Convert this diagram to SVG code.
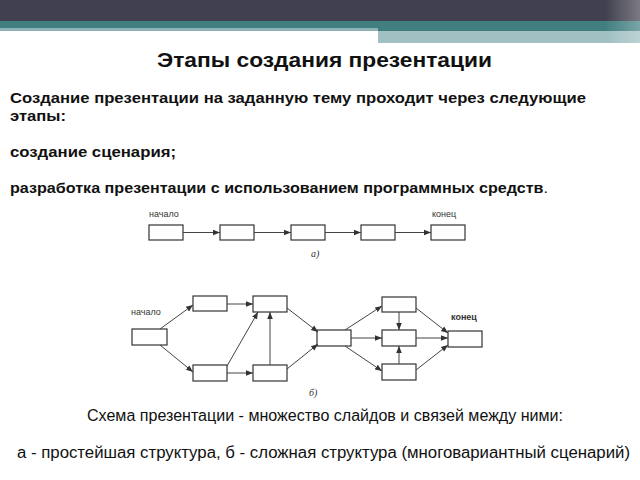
<svg xmlns="http://www.w3.org/2000/svg" width="640" height="480" viewBox="0 0 640 480">
<defs>
<marker id="ah" viewBox="0 0 10 10" refX="10" refY="5" markerWidth="7" markerHeight="7" markerUnits="userSpaceOnUse" orient="auto">
<path d="M0,1 L10,5 L0,9 z" fill="#333"/>
</marker>
<linearGradient id="edge" x1="0" x2="1" y1="0" y2="0">
<stop offset="0" stop-color="#ffffff" stop-opacity="0"/>
<stop offset="1" stop-color="#ffffff" stop-opacity="0.3"/>
</linearGradient>
</defs>
<style>
.box{fill:#fff;stroke:#333;stroke-width:1.2}
.c{stroke:#444;stroke-width:1;fill:none;marker-end:url(#ah)}
.lbl{font-family:"Liberation Sans",Arial,sans-serif;font-size:9px;fill:#333}
.b{font-family:"Liberation Sans",Arial,sans-serif;font-weight:bold;font-size:15px;fill:#111}
.r{font-family:"Liberation Sans",Arial,sans-serif;font-size:16px;fill:#111}
</style>
<rect width="640" height="480" fill="#fff"/>
<rect x="0" y="0" width="640" height="21" fill="#41404f"/>
<rect x="0" y="21" width="640" height="10" fill="#417e80"/>
<rect x="0" y="28" width="378" height="3" fill="#8fb3b5"/>
<rect x="378" y="31" width="262" height="12" fill="#a0c0c2"/>
<rect x="605" y="0" width="35" height="43" fill="url(#edge)"/>

<text x="157" y="67" textLength="335" lengthAdjust="spacingAndGlyphs" font-family="Liberation Sans, Arial, sans-serif" font-weight="bold" font-size="20" fill="#111">Этапы создания презентации</text>
<text class="b" x="10" y="103" textLength="576" lengthAdjust="spacingAndGlyphs">Создание презентации на заданную тему проходит через следующие</text>
<text class="b" x="10" y="121" textLength="56" lengthAdjust="spacingAndGlyphs">этапы:</text>
<text class="b" x="10" y="157" textLength="166" lengthAdjust="spacingAndGlyphs">создание сценария;</text>
<text class="b" x="10" y="193" textLength="538" lengthAdjust="spacingAndGlyphs">разработка презентации с использованием программных средств<tspan font-weight="normal">.</tspan></text>

<g id="diagram-a">
<g id="a-labels">
<text class="lbl" x="149" y="217">начало</text>
<text class="lbl" x="432" y="217">конец</text>
<text x="311" y="257" font-family="Liberation Serif, serif" font-style="italic" font-size="10" fill="#333">а)</text>
</g>
<g id="a1"><rect class="box" x="149" y="225" width="34" height="15"/></g>
<g id="a2"><rect class="box" x="220" y="225" width="34" height="15"/></g>
<g id="a3"><rect class="box" x="291" y="225" width="34" height="15"/></g>
<g id="a4"><rect class="box" x="361" y="225" width="34" height="15"/></g>
<g id="a5"><rect class="box" x="431" y="225" width="34" height="15"/></g>
<g id="a-connectors">
<line class="c" x1="183" y1="232.5" x2="220" y2="232.5"/>
<line class="c" x1="254" y1="232.5" x2="291" y2="232.5"/>
<line class="c" x1="325" y1="232.5" x2="361" y2="232.5"/>
<line class="c" x1="395" y1="232.5" x2="431" y2="232.5"/>
</g>
</g>

<g id="diagram-b">
<g id="b-labels">
<text class="lbl" x="131" y="315">начало</text>
<text class="lbl" x="451" y="320" font-weight="bold">конец</text>
<text x="309" y="396" font-family="Liberation Serif, serif" font-style="italic" font-size="10" fill="#333">б)</text>
</g>
<g id="b-start"><rect class="box" x="132" y="329" width="35" height="16"/></g>
<g id="b-top1"><rect class="box" x="193" y="296" width="34" height="15"/></g>
<g id="b-bot1"><rect class="box" x="193" y="365" width="34" height="16"/></g>
<g id="b-top2"><rect class="box" x="253" y="296" width="34" height="16"/></g>
<g id="b-bot2"><rect class="box" x="253" y="365" width="34" height="16"/></g>
<g id="b-mid"><rect class="box" x="317" y="330" width="34" height="16"/></g>
<g id="b-top3"><rect class="box" x="382" y="297" width="34" height="15"/></g>
<g id="b-mid3"><rect class="box" x="382" y="330" width="34" height="16"/></g>
<g id="b-bot3"><rect class="box" x="382" y="364" width="34" height="16"/></g>
<g id="b-end"><rect class="box" x="448" y="331" width="34" height="16"/></g>
<g id="b-connectors">
<line class="c" x1="160" y1="329" x2="193" y2="305"/>
<line class="c" x1="160" y1="345" x2="193" y2="372"/>
<line class="c" x1="227" y1="304" x2="253" y2="304"/>
<line class="c" x1="227" y1="366" x2="258" y2="312"/>
<line class="c" x1="227" y1="373" x2="253" y2="373"/>
<line class="c" x1="270" y1="365" x2="270" y2="312"/>
<line class="c" x1="287" y1="308" x2="318" y2="332"/>
<line class="c" x1="287" y1="369" x2="318" y2="344"/>
<line class="c" x1="345" y1="330" x2="382" y2="306"/>
<line class="c" x1="351" y1="338" x2="382" y2="338"/>
<line class="c" x1="345" y1="346" x2="382" y2="371"/>
<line class="c" x1="399" y1="312" x2="399" y2="330"/>
<line class="c" x1="399" y1="364" x2="399" y2="346"/>
<line class="c" x1="416" y1="308" x2="448" y2="333"/>
<line class="c" x1="416" y1="338" x2="448" y2="338"/>
<line class="c" x1="416" y1="370" x2="448" y2="345"/>
</g>
</g>

<text class="r" x="87" y="421" textLength="476" lengthAdjust="spacingAndGlyphs">Схема презентации - множество слайдов и связей между ними:</text>
<text class="r" x="17" y="458" textLength="613" lengthAdjust="spacingAndGlyphs">а - простейшая структура, б - сложная структура (многовариантный сценарий)</text>
</svg>
